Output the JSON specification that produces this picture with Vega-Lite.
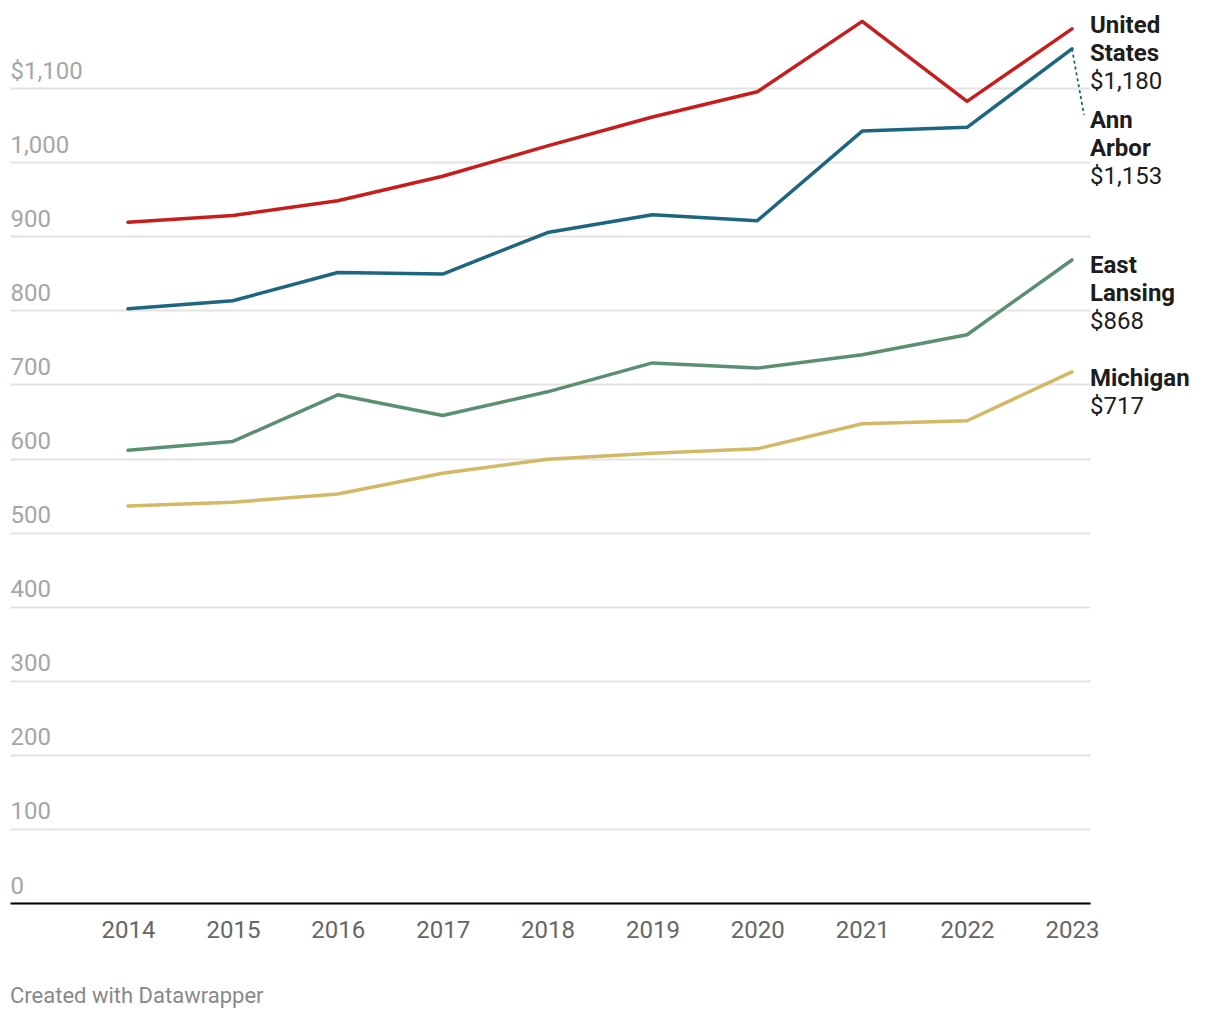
{
  "$schema": "https://vega.github.io/schema/vega-lite/v6.json",
  "autosize": "none",
  "width": 1080,
  "height": 889,
  "padding": {"left": 10, "top": 14, "right": 130, "bottom": 117},
  "background": "white",
  "config": {
    "view": {"stroke": null},
    "font": "Roboto",
    "title": {"font": "Roboto"}
  },
  "title": {
    "text": "Created with Datawrapper",
    "orient": "bottom",
    "anchor": "start",
    "offset": 44,
    "fontSize": 22,
    "fontWeight": "normal",
    "color": "#888888",
    "font": "Roboto"
  },
  "data": {
    "values": [
      {"series": "United States", "label": "United\nStates", "year": 2014, "value": 919},
      {"series": "United States", "label": "United\nStates", "year": 2015, "value": 928},
      {"series": "United States", "label": "United\nStates", "year": 2016, "value": 948},
      {"series": "United States", "label": "United\nStates", "year": 2017, "value": 981},
      {"series": "United States", "label": "United\nStates", "year": 2018, "value": 1022},
      {"series": "United States", "label": "United\nStates", "year": 2019, "value": 1061},
      {"series": "United States", "label": "United\nStates", "year": 2020, "value": 1095},
      {"series": "United States", "label": "United\nStates", "year": 2021, "value": 1190},
      {"series": "United States", "label": "United\nStates", "year": 2022, "value": 1082},
      {"series": "United States", "label": "United\nStates", "year": 2023, "value": 1180},
      {"series": "Ann Arbor", "label": "Ann\nArbor", "year": 2014, "value": 802},
      {"series": "Ann Arbor", "label": "Ann\nArbor", "year": 2015, "value": 813},
      {"series": "Ann Arbor", "label": "Ann\nArbor", "year": 2016, "value": 851},
      {"series": "Ann Arbor", "label": "Ann\nArbor", "year": 2017, "value": 849},
      {"series": "Ann Arbor", "label": "Ann\nArbor", "year": 2018, "value": 905},
      {"series": "Ann Arbor", "label": "Ann\nArbor", "year": 2019, "value": 929},
      {"series": "Ann Arbor", "label": "Ann\nArbor", "year": 2020, "value": 921},
      {"series": "Ann Arbor", "label": "Ann\nArbor", "year": 2021, "value": 1042},
      {"series": "Ann Arbor", "label": "Ann\nArbor", "year": 2022, "value": 1047},
      {"series": "Ann Arbor", "label": "Ann\nArbor", "year": 2023, "value": 1153},
      {"series": "East Lansing", "label": "East\nLansing", "year": 2014, "value": 611},
      {"series": "East Lansing", "label": "East\nLansing", "year": 2015, "value": 623},
      {"series": "East Lansing", "label": "East\nLansing", "year": 2016, "value": 686},
      {"series": "East Lansing", "label": "East\nLansing", "year": 2017, "value": 658},
      {"series": "East Lansing", "label": "East\nLansing", "year": 2018, "value": 690},
      {"series": "East Lansing", "label": "East\nLansing", "year": 2019, "value": 729},
      {"series": "East Lansing", "label": "East\nLansing", "year": 2020, "value": 722},
      {"series": "East Lansing", "label": "East\nLansing", "year": 2021, "value": 740},
      {"series": "East Lansing", "label": "East\nLansing", "year": 2022, "value": 767},
      {"series": "East Lansing", "label": "East\nLansing", "year": 2023, "value": 868},
      {"series": "Michigan", "label": "Michigan", "year": 2014, "value": 536},
      {"series": "Michigan", "label": "Michigan", "year": 2015, "value": 541},
      {"series": "Michigan", "label": "Michigan", "year": 2016, "value": 552},
      {"series": "Michigan", "label": "Michigan", "year": 2017, "value": 580},
      {"series": "Michigan", "label": "Michigan", "year": 2018, "value": 599},
      {"series": "Michigan", "label": "Michigan", "year": 2019, "value": 607},
      {"series": "Michigan", "label": "Michigan", "year": 2020, "value": 613},
      {"series": "Michigan", "label": "Michigan", "year": 2021, "value": 647},
      {"series": "Michigan", "label": "Michigan", "year": 2022, "value": 651},
      {"series": "Michigan", "label": "Michigan", "year": 2023, "value": 717}
    ]
  },
  "encoding": {
    "x": {
      "field": "year",
      "type": "quantitative",
      "scale": {"domain": [2012.875, 2023.172], "nice": false, "zero": false},
      "axis": {
        "title": null,
        "values": [2014, 2015, 2016, 2017, 2018, 2019, 2020, 2021, 2022, 2023],
        "format": "d",
        "grid": false,
        "ticks": false,
        "domain": true,
        "domainColor": "#000000",
        "domainWidth": 2,
        "labelFont": "Roboto",
        "labelFontSize": 24,
        "labelColor": "#666666",
        "labelBaseline": "alphabetic",
        "labelPadding": 34,
        "labelAlign": "center",
        "labelFlush": false,
        "labelOverlap": false
      }
    },
    "y": {
      "field": "value",
      "type": "quantitative",
      "scale": {"domain": [0, 1200], "nice": false},
      "axis": {
        "title": null,
        "values": [0, 100, 200, 300, 400, 500, 600, 700, 800, 900, 1000, 1100],
        "labelExpr": "datum.value == 1100 ? '$1,100' : format(datum.value, ',')",
        "grid": true,
        "gridColor": "#e3e3e3",
        "gridWidth": 2,
        "ticks": false,
        "domain": false,
        "labelFont": "Roboto",
        "labelFontSize": 24,
        "labelColor": "#a6a6a6",
        "labelAlign": "left",
        "labelBaseline": "alphabetic",
        "labelPadding": 0,
        "labelOffset": -10,
        "labelFlush": false,
        "labelOverlap": false
      }
    }
  },
  "layer": [
    {
      "mark": {"type": "line", "strokeWidth": 3.5, "strokeCap": "round", "strokeJoin": "round"},
      "encoding": {
        "color": {
          "field": "series",
          "type": "nominal",
          "legend": null,
          "scale": {
            "domain": ["United States", "Ann Arbor", "East Lansing", "Michigan"],
            "range": ["#c71e1d", "#1d6680", "#5b8f72", "#d3b865"]
          }
        }
      }
    },
    {
      "transform": [{"filter": "datum.series == 'Ann Arbor' && datum.year == 2023"}],
      "mark": {"type": "rule", "color": "#1d6680", "strokeWidth": 1.8, "strokeDash": [3, 3]},
      "encoding": {
        "x2": {"datum": 2023.115},
        "y2": {"datum": 1064}
      }
    },
    {
      "transform": [{"filter": "datum.series == 'United States' && datum.year == 2023"}],
      "mark": {"type": "text", "align": "left", "baseline": "alphabetic", "dx": 18, "dy": 4, "font": "Roboto", "fontSize": 24, "fontWeight": "bold", "color": "#1d1d1d", "lineBreak": "\n", "lineHeight": 28},
      "encoding": {"text": {"field": "label"}}
    },
    {
      "transform": [{"filter": "datum.series == 'United States' && datum.year == 2023"}],
      "mark": {"type": "text", "align": "left", "baseline": "alphabetic", "dx": 18, "dy": 60, "font": "Roboto", "fontSize": 24, "fontWeight": "normal", "color": "#1d1d1d"},
      "encoding": {"text": {"field": "value", "type": "quantitative", "format": "$,.0f"}}
    },
    {
      "transform": [{"filter": "datum.series == 'Ann Arbor' && datum.year == 2023"}],
      "mark": {"type": "text", "align": "left", "baseline": "alphabetic", "dx": 18, "dy": 79, "font": "Roboto", "fontSize": 24, "fontWeight": "bold", "color": "#1d1d1d", "lineBreak": "\n", "lineHeight": 28},
      "encoding": {"text": {"field": "label"}}
    },
    {
      "transform": [{"filter": "datum.series == 'Ann Arbor' && datum.year == 2023"}],
      "mark": {"type": "text", "align": "left", "baseline": "alphabetic", "dx": 18, "dy": 135, "font": "Roboto", "fontSize": 24, "fontWeight": "normal", "color": "#1d1d1d"},
      "encoding": {"text": {"field": "value", "type": "quantitative", "format": "$,.0f"}}
    },
    {
      "transform": [{"filter": "datum.series == 'East Lansing' && datum.year == 2023"}],
      "mark": {"type": "text", "align": "left", "baseline": "alphabetic", "dx": 18, "dy": 13, "font": "Roboto", "fontSize": 24, "fontWeight": "bold", "color": "#1d1d1d", "lineBreak": "\n", "lineHeight": 28},
      "encoding": {"text": {"field": "label"}}
    },
    {
      "transform": [{"filter": "datum.series == 'East Lansing' && datum.year == 2023"}],
      "mark": {"type": "text", "align": "left", "baseline": "alphabetic", "dx": 18, "dy": 69, "font": "Roboto", "fontSize": 24, "fontWeight": "normal", "color": "#1d1d1d"},
      "encoding": {"text": {"field": "value", "type": "quantitative", "format": "$,.0f"}}
    },
    {
      "transform": [{"filter": "datum.series == 'Michigan' && datum.year == 2023"}],
      "mark": {"type": "text", "align": "left", "baseline": "alphabetic", "dx": 18, "dy": 14, "font": "Roboto", "fontSize": 24, "fontWeight": "bold", "color": "#1d1d1d"},
      "encoding": {"text": {"field": "label"}}
    },
    {
      "transform": [{"filter": "datum.series == 'Michigan' && datum.year == 2023"}],
      "mark": {"type": "text", "align": "left", "baseline": "alphabetic", "dx": 18, "dy": 42, "font": "Roboto", "fontSize": 24, "fontWeight": "normal", "color": "#1d1d1d"},
      "encoding": {"text": {"field": "value", "type": "quantitative", "format": "$,.0f"}}
    }
  ]
}
